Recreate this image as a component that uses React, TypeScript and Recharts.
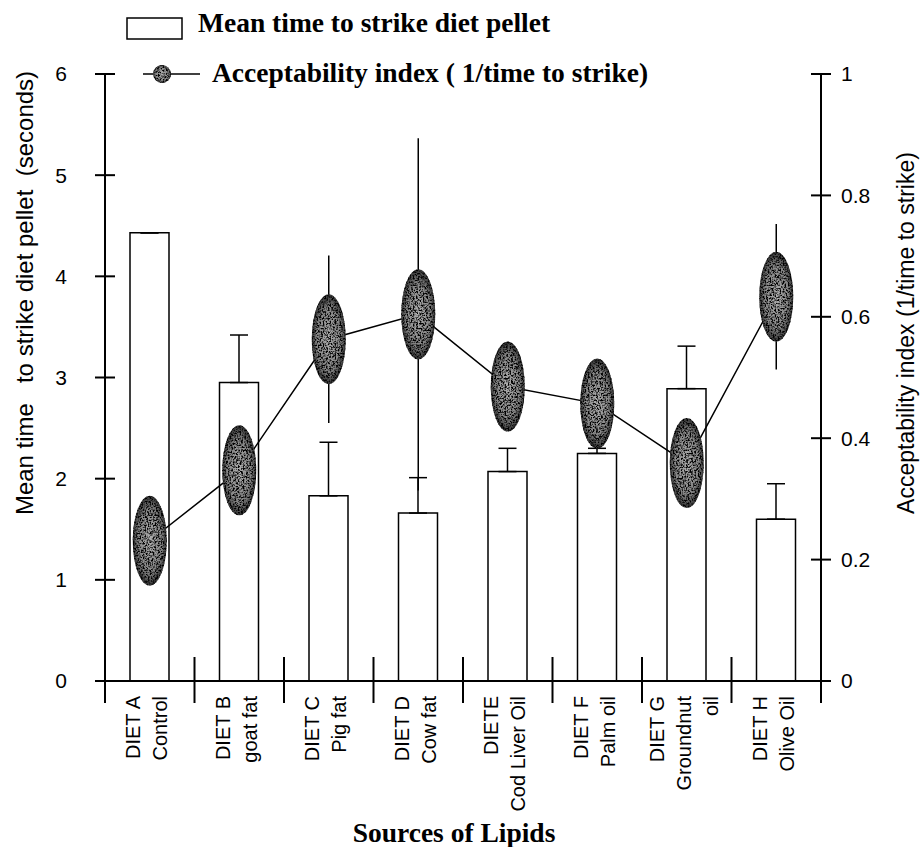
import React from "react";
import { Bar, ComposedChart, ErrorBar, Line, XAxis, YAxis } from "recharts";

const diets = ["DIET A", "DIET B", "DIET C", "DIET D", "DIETE", "DIET F", "DIET G", "DIET H"];
const lipidLines = [
  ["Control"],
  ["goat fat"],
  ["Pig fat"],
  ["Cow fat"],
  ["Cod Liver Oil"],
  ["Palm oil"],
  ["Groundnut", "oil"],
  ["Olive Oil"],
];
// mean time to strike (s), with upper error only
const strikeTime = [4.43, 2.95, 1.83, 1.66, 2.07, 2.25, 2.89, 1.6];
const strikeTimeErr = [0, 0.47, 0.53, 0.35, 0.23, 0.05, 0.42, 0.35];
// acceptability index = 1 / time to strike
const acceptability = [0.231, 0.347, 0.563, 0.604, 0.485, 0.457, 0.359, 0.633];
const acceptabilityErr = [0, 0, 0.138, 0.29, 0, 0, 0, 0.12];
const leftTicks = [0, 1, 2, 3, 4, 5, 6];
const rightTicks = [0, 0.2, 0.4, 0.6, 0.8, 1];

const data = diets.map((diet, i) => ({
  diet,
  time: strikeTime[i],
  timeErr: [0, strikeTimeErr[i]],
  index: acceptability[i],
  indexErr: [acceptabilityErr[i], acceptabilityErr[i]],
}));

const SANS = "'Liberation Sans', Arial, sans-serif";
const SERIF = "'Liberation Serif', 'Times New Roman', serif";

function LeftTick({ x, y, payload }: any) {
  return (
    <g>
      <line x1={x - 10} x2={x + 10} y1={y} y2={y} stroke="#000" strokeWidth={2} />
      <text x={x - 38} y={y} dy="0.35em" textAnchor="end" fontSize={21} fontFamily={SANS} fill="#000">
        {payload.value}
      </text>
    </g>
  );
}

function RightTick({ x, y, payload }: any) {
  return (
    <g>
      <line x1={x - 10} x2={x + 10} y1={y} y2={y} stroke="#000" strokeWidth={2} />
      <text x={x + 20} y={y} dy="0.35em" textAnchor="start" fontSize={21} fontFamily={SANS} fill="#000">
        {payload.value}
      </text>
    </g>
  );
}

function DietTick({ x, y, payload }: any) {
  const i = diets.indexOf(payload.value);
  const lines = [payload.value, ...lipidLines[i]];
  const half = payload.offset || 44.75;
  const gap = 27;
  const top = y + 15;
  return (
    <g>
      <line x1={x - half} x2={x - half} y1={y - 24} y2={y + 22} stroke="#000" strokeWidth={2} />
      {i === diets.length - 1 && (
        <line x1={x + half} x2={x + half} y1={y - 24} y2={y + 22} stroke="#000" strokeWidth={2} />
      )}
      {lines.map((t, k) => {
        const lx = x - 3 + (k - (lines.length - 1) / 2) * gap;
        return (
          <text
            key={k}
            x={lx}
            y={top}
            dy="0.35em"
            transform={`rotate(-90 ${lx} ${top})`}
            textAnchor="end"
            fontSize={20}
            fontFamily={SANS}
            fill="#000"
          >
            {t}
          </text>
        );
      })}
    </g>
  );
}

function SpeckleDot({ cx, cy, index }: any) {
  if (cx == null || cy == null) return <g key={`d${index}`} />;
  return (
    <g key={`d${index}`}>
      <ellipse cx={cx} cy={cy} rx={17} ry={45} fill="url(#dotShade)" />
      <ellipse cx={cx} cy={cy} rx={17} ry={45} fill="#000" filter="url(#speckle)" />
    </g>
  );
}

export default function App() {
  return (
    <div style={{ position: "absolute", left: 0, top: 0, width: 923, height: 847, background: "#fff" }}>
      <svg width={923} height={100} style={{ position: "absolute", left: 0, top: 0 }}>
        <rect x={127} y={18} width={55} height={21} fill="#fff" stroke="#000" strokeWidth={1.5} />
        <text x={198} y={32} fontSize={27.5} fontWeight="bold" fontFamily={SERIF} fill="#000">
          Mean time to strike diet pellet
        </text>
        <line x1={143} x2={200} y1={74} y2={74} stroke="#000" strokeWidth={1.5} />
        <ellipse cx={162} cy={74} rx={9} ry={9} fill="url(#dotShade)" />
        <ellipse cx={162} cy={74} rx={9} ry={9} fill="#000" filter="url(#speckle)" />
        <text x={212} y={82} fontSize={27.5} fontWeight="bold" fontFamily={SERIF} fill="#000">
          Acceptability index ( 1/time to strike)
        </text>
      </svg>
      <ComposedChart width={923} height={847} data={data} margin={{ top: 74, right: 0, bottom: 0, left: 0 }}>
        <defs>
          <radialGradient id="dotShade" cx="50%" cy="50%" r="50%">
            <stop offset="0%" stopColor="#b0b0b0" />
            <stop offset="70%" stopColor="#858585" />
            <stop offset="100%" stopColor="#333" />
          </radialGradient>
          <filter id="speckle" x="0" y="0" width="100%" height="100%">
            <feTurbulence type="fractalNoise" baseFrequency="0.6" numOctaves="2" seed="4" result="noise" />
            <feColorMatrix
              in="noise"
              type="matrix"
              values="0 0 0 0 0  0 0 0 0 0  0 0 0 0 0  4 0 0 0 -1.7"
              result="dots"
            />
            <feComposite in="dots" in2="SourceGraphic" operator="in" />
          </filter>
        </defs>
        <XAxis
          dataKey="diet"
          height={166}
          interval={0}
          tickSize={0}
          tickMargin={0}
          tickLine={false}
          axisLine={{ stroke: "#000", strokeWidth: 2 }}
          tick={<DietTick />}
          label={{
            content: ({ viewBox }: any) => (
              <text
                x={viewBox.x + viewBox.width / 2 - 9}
                y={viewBox.y + 161}
                textAnchor="middle"
                fontSize={27.5}
                fontWeight="bold"
                fontFamily={SERIF}
                fill="#000"
              >
                Sources of Lipids
              </text>
            ),
          }}
        />
        <YAxis
          yAxisId="left"
          width={105}
          domain={[0, 6]}
          ticks={leftTicks}
          tickSize={0}
          tickMargin={0}
          tickLine={false}
          axisLine={{ stroke: "#000", strokeWidth: 2 }}
          tick={<LeftTick />}
          label={{
            content: ({ viewBox }: any) => (
              <text
                x={33}
                y={viewBox.y + 219}
                transform={`rotate(-90 33 ${viewBox.y + 219})`}
                textAnchor="middle"
                fontSize={24}
                fontFamily={SANS}
                fill="#000"
                style={{ whiteSpace: "pre" }}
              >
                {"Mean time   to strike diet pellet  (seconds)"}
              </text>
            ),
          }}
        />
        <YAxis
          yAxisId="right"
          orientation="right"
          width={102}
          domain={[0, 1]}
          ticks={rightTicks}
          tickSize={0}
          tickMargin={0}
          tickLine={false}
          axisLine={{ stroke: "#000", strokeWidth: 2 }}
          tick={<RightTick />}
          label={{
            content: ({ viewBox }: any) => (
              <text
                x={914}
                y={viewBox.y + 259}
                transform={`rotate(-90 914 ${viewBox.y + 259})`}
                textAnchor="middle"
                fontSize={23}
                fontFamily={SANS}
                fill="#000"
              >
                Acceptability index (1/time to strike)
              </text>
            ),
          }}
        />
        <Bar
          yAxisId="left"
          dataKey="time"
          barSize={39}
          fill="#fff"
          stroke="#000"
          strokeWidth={1.5}
          isAnimationActive={false}
        >
          <ErrorBar dataKey="timeErr" direction="y" width={9} stroke="#000" strokeWidth={1.5} />
        </Bar>
        <Line
          yAxisId="right"
          dataKey="index"
          stroke="#000"
          strokeWidth={1.5}
          dot={<SpeckleDot />}
          activeDot={false}
          isAnimationActive={false}
        >
          <ErrorBar dataKey="indexErr" direction="y" width={0} stroke="#000" strokeWidth={1.5} />
        </Line>
      </ComposedChart>
    </div>
  );
}
